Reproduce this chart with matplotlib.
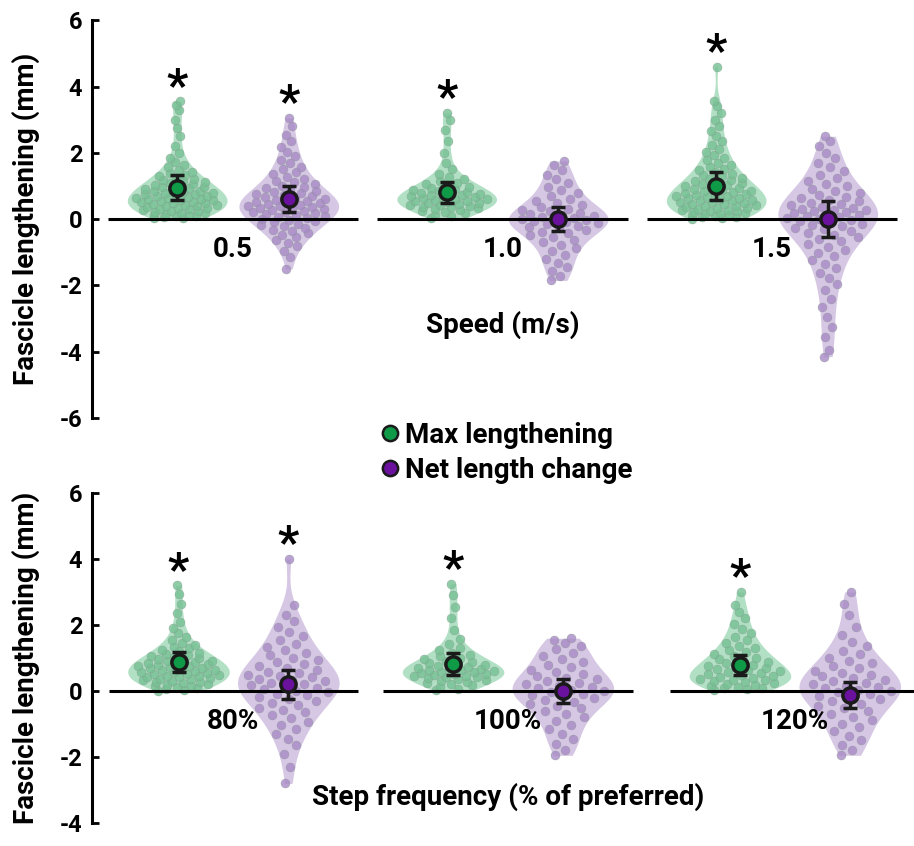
import numpy as np
import matplotlib.pyplot as plt
from matplotlib.lines import Line2D

plt.rcParams['font.family'] = ['Roboto', 'DejaVu Sans']
plt.rcParams['font.weight'] = 'bold'
plt.rcParams['axes.labelweight'] = 'bold'
plt.rcParams['axes.unicode_minus'] = False

# ---- data (mm) ----
speed_labels = ['0.5', '1.0', '1.5']
freq_labels = ['80%', '100%', '120%']

# speed conditions: max lengthening (green) / net length change (purple)
speed_max = [
    [0.02, 0.04, 0.05, 0.08, 0.1, 0.11, 0.13, 0.16, 0.17, 0.19, 0.22, 0.23, 0.25, 0.27, 0.3, 0.31, 0.33, 0.35,
     0.36, 0.39, 0.41, 0.42, 0.44, 0.47, 0.48, 0.5, 0.52, 0.53, 0.55, 0.57, 0.58, 0.6, 0.62, 0.64, 0.65, 0.67,
     0.69, 0.7, 0.72, 0.75, 0.76, 0.78, 0.8, 0.83, 0.85, 0.86, 0.89, 0.91, 0.94, 0.96, 0.98, 1.01, 1.04, 1.06,
     1.09, 1.12, 1.15, 1.18, 1.21, 1.25, 1.29, 1.33, 1.38, 1.43, 1.49, 1.56, 1.64, 1.73, 1.85, 2.0, 2.2, 2.5,
     2.75, 3.0, 3.3, 3.45, 3.55],
    [0.02, 0.08, 0.13, 0.18, 0.22, 0.25, 0.28, 0.31, 0.34, 0.36, 0.38, 0.4, 0.42, 0.44, 0.46, 0.48, 0.5, 0.52,
     0.54, 0.56, 0.58, 0.6, 0.62, 0.64, 0.66, 0.68, 0.7, 0.72, 0.74, 0.76, 0.78, 0.8, 0.83, 0.86, 0.89, 0.92,
     0.95, 0.98, 1.02, 1.06, 1.1, 1.15, 1.21, 1.28, 1.37, 1.5, 1.7, 2.0, 2.35, 2.7, 3.0, 3.2],
    [0.01, 0.03, 0.05, 0.07, 0.09, 0.11, 0.13, 0.15, 0.17, 0.19, 0.21, 0.23, 0.25, 0.27, 0.29, 0.31, 0.33, 0.35,
     0.37, 0.39, 0.41, 0.43, 0.45, 0.47, 0.49, 0.51, 0.53, 0.55, 0.57, 0.59, 0.61, 0.63, 0.65, 0.67, 0.69, 0.71,
     0.73, 0.75, 0.77, 0.79, 0.82, 0.84, 0.86, 0.89, 0.91, 0.94, 0.96, 0.99, 1.02, 1.05, 1.08, 1.11, 1.14, 1.17,
     1.21, 1.25, 1.29, 1.33, 1.37, 1.42, 1.47, 1.52, 1.58, 1.64, 1.7, 1.77, 1.85, 1.93, 2.02, 2.12, 2.23, 2.35,
     2.5, 2.65, 2.8, 3.0, 3.2, 3.4, 3.55, 4.6],
]
speed_net = [
    [-1.5, -1.15, -0.95, -0.82, -0.72, -0.63, -0.55, -0.48, -0.42, -0.37, -0.32, -0.27, -0.22, -0.18, -0.14, -0.1,
     -0.07, -0.03, 0.0, 0.03, 0.06, 0.09, 0.12, 0.15, 0.17, 0.2, 0.22, 0.25, 0.27, 0.3, 0.32, 0.34, 0.37, 0.39,
     0.41, 0.44, 0.46, 0.48, 0.51, 0.53, 0.56, 0.58, 0.61, 0.63, 0.66, 0.69, 0.72, 0.75, 0.78, 0.82, 0.85, 0.89,
     0.93, 0.97, 1.01, 1.06, 1.11, 1.16, 1.22, 1.28, 1.35, 1.42, 1.5, 1.58, 1.68, 1.78, 1.9, 2.03, 2.18, 2.35,
     2.55, 2.8, 3.05],
    [-1.85, -1.72, -1.58, -1.45, -1.32, -1.2, -1.08, -0.97, -0.87, -0.78, -0.7, -0.62, -0.55, -0.49, -0.43, -0.38,
     -0.33, -0.28, -0.24, -0.2, -0.16, -0.13, -0.1, -0.07, -0.04, -0.02, 0.01, 0.03, 0.06, 0.09, 0.12, 0.15, 0.19,
     0.23, 0.27, 0.32, 0.37, 0.42, 0.48, 0.55, 0.62, 0.7, 0.78, 0.87, 0.97, 1.08, 1.2, 1.33, 1.47, 1.62, 1.75],
    [-4.15, -3.95, -3.55, -3.25, -2.95, -2.65, -2.4, -2.15, -1.95, -1.78, -1.62, -1.48, -1.35, -1.23, -1.12, -1.02,
     -0.92, -0.83, -0.75, -0.67, -0.6, -0.53, -0.47, -0.41, -0.36, -0.31, -0.26, -0.22, -0.18, -0.14, -0.1, -0.07,
     -0.04, -0.01, 0.02, 0.05, 0.08, 0.11, 0.14, 0.17, 0.2, 0.23, 0.26, 0.29, 0.32, 0.35, 0.38, 0.42, 0.46, 0.5,
     0.54, 0.58, 0.63, 0.68, 0.73, 0.79, 0.85, 0.92, 0.99, 1.07, 1.15, 1.24, 1.34, 1.45, 1.57, 1.7, 1.85, 2.0,
     2.2, 2.35, 2.5],
]

# step frequency conditions
freq_max = [
    [0.01, 0.04, 0.06, 0.09, 0.11, 0.14, 0.16, 0.19, 0.21, 0.24, 0.26, 0.28, 0.31, 0.33, 0.35, 0.37, 0.39, 0.41,
     0.43, 0.45, 0.47, 0.49, 0.51, 0.53, 0.55, 0.57, 0.59, 0.61, 0.63, 0.65, 0.67, 0.69, 0.71, 0.73, 0.75, 0.77,
     0.79, 0.81, 0.83, 0.85, 0.88, 0.9, 0.92, 0.95, 0.97, 1.0, 1.03, 1.06, 1.09, 1.12, 1.16, 1.2, 1.24, 1.29,
     1.34, 1.4, 1.47, 1.55, 1.65, 1.77, 1.92, 2.1, 2.35, 2.65, 2.95, 3.2],
    [0.02, 0.07, 0.12, 0.17, 0.21, 0.25, 0.28, 0.31, 0.34, 0.37, 0.39, 0.41, 0.43, 0.45, 0.47, 0.49, 0.51, 0.53,
     0.55, 0.57, 0.59, 0.61, 0.63, 0.65, 0.67, 0.69, 0.71, 0.74, 0.76, 0.79, 0.82, 0.85, 0.88, 0.92, 0.96, 1.0,
     1.05, 1.1, 1.16, 1.23, 1.31, 1.42, 1.58, 1.85, 2.2, 2.55, 2.9, 3.25],
    [0.02, 0.05, 0.08, 0.1, 0.13, 0.16, 0.18, 0.21, 0.24, 0.26, 0.29, 0.32, 0.34, 0.37, 0.4, 0.42, 0.45, 0.48,
     0.51, 0.54, 0.57, 0.6, 0.63, 0.66, 0.69, 0.73, 0.76, 0.8, 0.84, 0.88, 0.92, 0.96, 1.01, 1.06, 1.11, 1.17,
     1.23, 1.3, 1.37, 1.45, 1.54, 1.64, 1.75, 1.88, 2.02, 2.2, 2.4, 2.6, 3.0],
]
freq_net = [
    [-2.8, -2.3, -1.9, -1.65, -1.45, -1.3, -1.16, -1.04, -0.93, -0.83, -0.74, -0.65, -0.57, -0.5, -0.43, -0.36,
     -0.3, -0.24, -0.18, -0.13, -0.08, -0.03, 0.01, 0.05, 0.09, 0.13, 0.17, 0.21, 0.25, 0.29, 0.33, 0.37, 0.41,
     0.45, 0.49, 0.54, 0.59, 0.64, 0.69, 0.75, 0.81, 0.87, 0.94, 1.01, 1.08, 1.16, 1.25, 1.34, 1.44, 1.55, 1.67,
     1.8, 1.95, 2.12, 2.3, 2.6, 4.0],
    [-1.95, -1.8, -1.62, -1.45, -1.3, -1.16, -1.03, -0.91, -0.8, -0.7, -0.61, -0.53, -0.46, -0.39, -0.33, -0.27,
     -0.22, -0.17, -0.12, -0.08, -0.04, 0.0, 0.04, 0.08, 0.12, 0.16, 0.2, 0.25, 0.3, 0.35, 0.4, 0.46, 0.52, 0.58,
     0.65, 0.72, 0.8, 0.88, 0.97, 1.06, 1.16, 1.26, 1.36, 1.46, 1.55, 1.6],
    [-1.95, -1.8, -1.64, -1.49, -1.35, -1.22, -1.1, -0.99, -0.88, -0.78, -0.69, -0.6, -0.52, -0.45, -0.38, -0.31,
     -0.25, -0.19, -0.14, -0.09, -0.04, 0.0, 0.04, 0.08, 0.12, 0.16, 0.2, 0.24, 0.29, 0.34, 0.39, 0.44, 0.5, 0.56,
     0.62, 0.69, 0.76, 0.84, 0.92, 1.01, 1.11, 1.22, 1.35, 1.5, 1.7, 1.95, 2.3, 2.65, 3.0],
]

# group means with error bars
speed_max_mean = [0.95, 0.81, 1.0]
speed_max_err = [0.38, 0.31, 0.42]
speed_net_mean = [0.6, 0.0, 0.0]
speed_net_err = [0.4, 0.37, 0.55]
freq_max_mean = [0.88, 0.82, 0.79]
freq_max_err = [0.3, 0.32, 0.3]
freq_net_mean = [0.21, 0.0, -0.12]
freq_net_err = [0.44, 0.35, 0.4]

# significance stars (different from zero)
speed_max_sig = [True, True, True]
speed_net_sig = [True, False, False]
freq_max_sig = [True, True, True]
freq_net_sig = [True, False, False]

GREEN_FILL, GREEN_DOT, GREEN_MEAN = '#b2e0c5', '#75c093', '#0e9a46'
PURPLE_FILL, PURPLE_DOT, PURPLE_MEAN = '#d6c7e4', '#a88ac6', '#6a129e'


def violin(ax, x, vals, fill, dot, halfw):
    v = np.sort(np.asarray(vals, dtype=float))
    bw = 0.85 * v.std(ddof=1) * len(v) ** (-0.2)

    def dens(y):
        return np.exp(-0.5 * ((np.asarray(y)[:, None] - v[None, :]) / bw) ** 2).sum(axis=1)

    grid = np.linspace(v.min(), v.max(), 300)
    d = dens(grid)
    scale = halfw / d.max()
    ax.fill_betweenx(grid, x - d * scale, x + d * scale, color=fill, lw=0, zorder=1)
    # spread the dots inside the violin outline
    u = (np.arange(len(v)) * 0.618034) % 1 * 2 - 1
    xs = x + u * dens(v) * scale * 0.85
    ax.scatter(xs, v, s=42, color=dot, alpha=0.8, edgecolors='#8a9a90', linewidths=0.3, zorder=2)


def mean_point(ax, x, m, e, color):
    ax.errorbar([x], [m], yerr=[e], fmt='o', ms=11, mfc=color, mec='#1a1a1a', mew=2.5,
                ecolor='#1a1a1a', elinewidth=2.5, capsize=5, capthick=2.5, zorder=5)


def panel(ax, pos, halfline, off, labels, maxv, netv, mmean, merr, nmean, nerr, msig, nsig, xlabel):
    for i, x in enumerate(pos):
        violin(ax, x - off, maxv[i], GREEN_FILL, GREEN_DOT, 0.185)
        violin(ax, x + off, netv[i], PURPLE_FILL, PURPLE_DOT, 0.185)
        ax.plot([x - halfline, x + halfline], [0, 0], color='black', lw=2.2, zorder=3, solid_capstyle='butt')
        mean_point(ax, x - off, mmean[i], merr[i], GREEN_MEAN)
        mean_point(ax, x + off, nmean[i], nerr[i], PURPLE_MEAN)
        if msig[i]:
            ax.text(x - off, max(maxv[i]) + 0.02, '*', ha='center', va='baseline', fontsize=34)
        if nsig[i]:
            ax.text(x + off, max(netv[i]) + 0.02, '*', ha='center', va='baseline', fontsize=34)
        ax.text(x, -0.93, labels[i], ha='center', va='center', fontsize=20)
    ax.text(pos[1], -3.2, xlabel, ha='center', va='center', fontsize=20)
    for s in ['top', 'right', 'bottom']:
        ax.spines[s].set_visible(False)
    ax.spines['left'].set_linewidth(2.2)
    ax.set_xticks([])
    ax.tick_params(axis='y', direction='in', length=5, width=2, labelsize=17, pad=7)
    ax.set_ylabel('Fascicle lengthening (mm)', fontsize=20)
    ax.yaxis.set_label_coords(-0.063, 0.5)


fig = plt.figure(figsize=(9.14, 8.46), dpi=100)

ax1 = fig.add_axes([0.1007, 0.506, 0.8993, 0.470])
panel(ax1, [0, 1, 2], 0.464, 0.207, speed_labels, speed_max, speed_net, speed_max_mean, speed_max_err,
      speed_net_mean, speed_net_err, speed_max_sig, speed_net_sig, 'Speed (m/s)')
ax1.set_ylim(-6, 6)
ax1.set_yticks([-6, -4, -2, 0, 2, 4, 6])
ax1.set_xlim(-0.523, 2.527)

ax2 = fig.add_axes([0.1007, 0.0272, 0.8993, 0.390])
panel(ax2, [0, 1, 2.045], 0.455, 0.2, freq_labels, freq_max, freq_net, freq_max_mean, freq_max_err,
      freq_net_mean, freq_net_err, freq_max_sig, freq_net_sig, 'Step frequency (% of preferred)')
ax2.set_ylim(-4, 6)
ax2.set_yticks([-4, -2, 0, 2, 4, 6])
ax2.set_xlim(-0.515, 2.479)

handles = [Line2D([], [], ls='', marker='o', ms=11, mfc=GREEN_MEAN, mec='#1a1a1a', mew=1.8),
           Line2D([], [], ls='', marker='o', ms=11, mfc=PURPLE_MEAN, mec='#1a1a1a', mew=1.8)]
fig.legend(handles, ['Max lengthening', 'Net length change'], loc='center',
           bbox_to_anchor=(505 / 914, 1 - 453 / 846), frameon=False, fontsize=20,
           handletextpad=0.1, handlelength=0.9, labelspacing=0.3, borderpad=0)

fig.savefig('out.png', dpi=100)
